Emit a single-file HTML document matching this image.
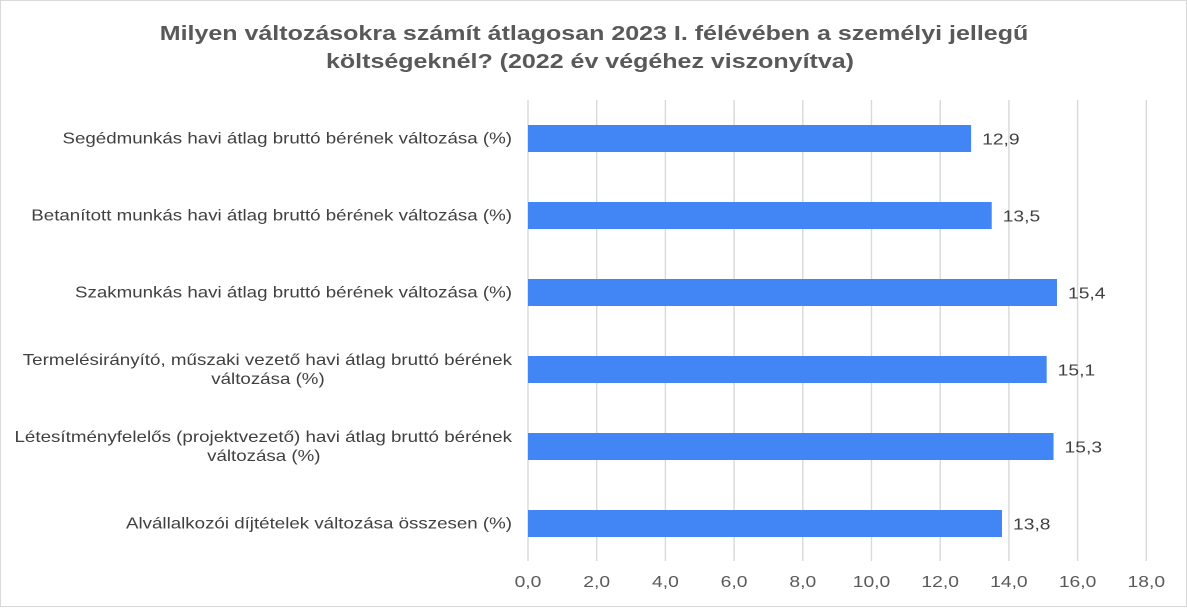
<!DOCTYPE html>
<html><head><meta charset="utf-8"><style>
body{margin:0;background:#fff}
svg{display:block;font-family:"Liberation Sans",Arial,sans-serif}
</style></head><body>
<svg width="1187" height="608">
<rect x="0.5" y="0.5" width="1186" height="606" fill="#fff" stroke="#d9d9d9"/>
<text class="ttl" x="594" y="40" text-anchor="middle" font-size="20" font-weight="bold" fill="#595959">Milyen változásokra számít átlagosan 2023 I. félévében a személyi jellegű</text>
<text class="ttl" x="590" y="68" text-anchor="middle" font-size="20" font-weight="bold" fill="#595959">költségeknél? (2022 év végéhez viszonyítva)</text>
<g id="grid"></g><g id="bars"></g><g id="labels"></g>
</svg>
<script>
const categories=[["Segédmunkás havi átlag bruttó bérének változása (%)"],["Betanított munkás havi átlag bruttó bérének változása  (%)"],["Szakmunkás havi átlag bruttó bérének változása (%)"],["Termelésirányító, műszaki vezető havi átlag bruttó bérének","változása (%)"],["Létesítményfelelős (projektvezető) havi átlag bruttó bérének","változása (%)"],["Alvállalkozói díjtételek változása összesen (%)"]];
const values=[12.9,13.5,15.4,15.1,15.3,13.8];
const ticks=[0,2,4,6,8,10,12,14,16,18];
const NS="http://www.w3.org/2000/svg";
const x0=528,unit=34.35,plotTop=100,band=77,bh=27;
const xs=v=>x0+v*unit;
function mk(t,a,p){const e=document.createElementNS(NS,t);for(const k in a)e.setAttribute(k,a[k]);p.appendChild(e);return e;}
function stretch(e,f){const w=e.getBBox().width;e.setAttribute('textLength',(w*f).toFixed(1));e.setAttribute('lengthAdjust','spacingAndGlyphs');}
document.querySelectorAll('.ttl').forEach(e=>stretch(e,1.25));
const g=document.getElementById('grid'),b=document.getElementById('bars'),l=document.getElementById('labels');
ticks.forEach(t=>{
 const ln=mk('line',{x1:xs(t),x2:xs(t),y1:plotTop,y2:561,stroke:'#d9d9d9','stroke-width':1.4},g);
 
 
 const tx=mk('text',{x:xs(t),y:587,'text-anchor':'middle','font-size':16,fill:'#595959'},l);
 tx.textContent=t.toFixed(1).replace('.',',');
 
 
 stretch(tx,1.2);
});
values.forEach((v,i)=>{
 const cy=plotTop+band*(i+0.5);
 const r=mk('rect',{x:x0,y:cy-bh/2,width:xs(v)-x0,height:bh,fill:'#4285f4'},b);
 
 
 const vt=mk('text',{x:xs(v)+11,y:cy+6,'font-size':16,fill:'#404040'},l);
 vt.textContent=v.toFixed(1).replace('.',',');
 
 
 stretch(vt,1.2);
 const lines=categories[i];
 let center=null;
 lines.forEach((s,j)=>{
  const y=cy+5+(j-(lines.length-1)/2)*19;
  const attrs=j==0?{x:512,y:y,'text-anchor':'end'}:{x:center,y:y,'text-anchor':'middle'};
  attrs['font-size']=16;attrs.fill='#404040';
  const ct=mk('text',attrs,l);
  ct.textContent=s;
  
  
  stretch(ct,1.17);
  if(j==0){const bb=ct.getBBox();center=bb.x+bb.width/2;}
 });
});
</script>
</body></html>
